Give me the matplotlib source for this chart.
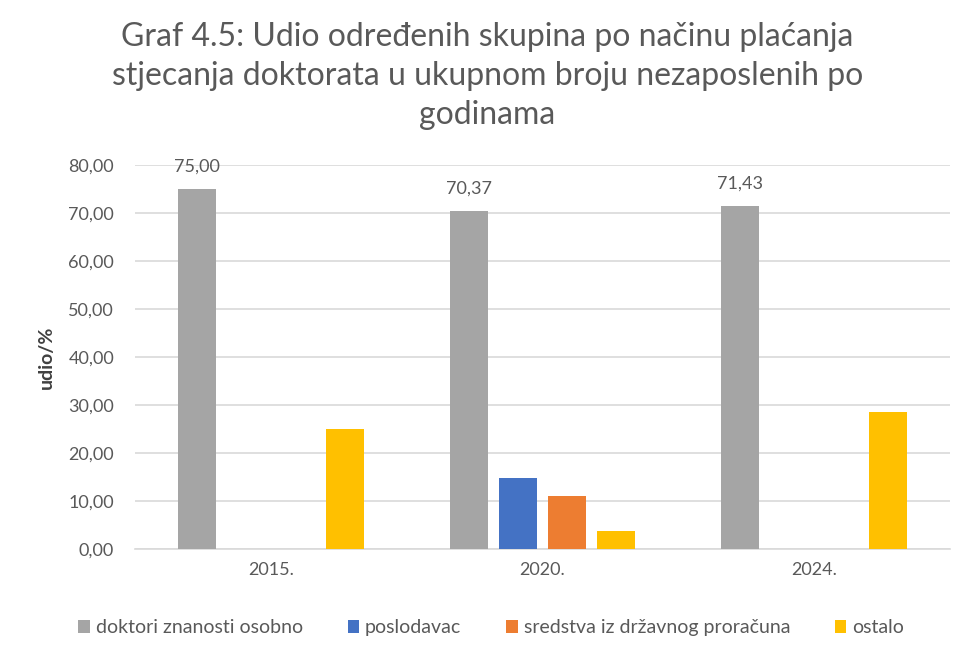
import matplotlib
matplotlib.use("Agg")
import matplotlib.pyplot as plt
import numpy as np

plt.rcParams['font.family'] = ['Lato', 'DejaVu Sans']

categories = ["2015.", "2020.", "2024."]
series_names = ["doktori znanosti osobno", "poslodavac", "sredstva iz državnog proračuna", "ostalo"]
doktori = [75.00, 70.37, 71.43]
poslodavac = [0.0, 14.81, 0.0]
sredstva = [0.0, 11.11, 0.0]
ostalo = [25.00, 3.70, 28.57]
colors = ["#A5A5A5", "#4472C4", "#ED7D31", "#FFC000"]
yticks = [0, 10, 20, 30, 40, 50, 60, 70, 80]

txt = "#595959"
fig = plt.figure(figsize=(9.61, 6.6), dpi=100)
ax = fig.add_axes([0.1405, 0.168, 0.848, 0.582])

x = np.arange(len(categories))
w = 0.14
pitch = 0.181
data = [doktori, poslodavac, sredstva, ostalo]
for i, (vals, name, c) in enumerate(zip(data, series_names, colors)):
    off = (i - 1.5) * pitch
    bars = ax.bar(x + off, vals, width=w, color=c, label=name, zorder=3)
    if i == 0:
        for b, v in zip(bars, vals):
            ax.text(b.get_x() + b.get_width() / 2, v + 3.0, f"{v:.2f}".replace(".", ","),
                    ha="center", va="bottom", fontsize=13, color=txt)

ax.set_xlim(-0.5, 2.5)
ax.set_ylim(0, 80)
ax.set_yticks(yticks)
ax.set_yticklabels([f"{t:.2f}".replace(".", ",") for t in yticks], fontsize=13, color=txt)
ax.set_xticks(x)
ax.set_xticklabels(categories, fontsize=13, color=txt)
ax.tick_params(axis="y", length=0, pad=15)
ax.tick_params(axis="x", length=0, pad=9)
ax.grid(axis="y", color="#D9D9D9", linewidth=1.2, zorder=0)
for s in ["top", "right", "left"]:
    ax.spines[s].set_visible(False)
ax.spines["bottom"].set_color("#D9D9D9")
ax.spines["bottom"].set_linewidth(1.2)
ax.set_ylabel("udio/%", fontsize=14, color="#404040", fontweight="bold", labelpad=10)

fig.text(0.507, 0.885, "Graf 4.5: Udio određenih skupina po načinu plaćanja\nstjecanja doktorata u ukupnom broju nezaposlenih po\ngodinama",
         ha="center", va="center", fontsize=23, color=txt, linespacing=1.38)

ax.legend(loc="center", bbox_to_anchor=(0.437, -0.205), ncol=4, frameon=False,
          fontsize=14, handlelength=0.6, handleheight=0.6, handletextpad=0.3,
          columnspacing=2.3, labelcolor=txt)

fig.savefig("out.png", dpi=100)
